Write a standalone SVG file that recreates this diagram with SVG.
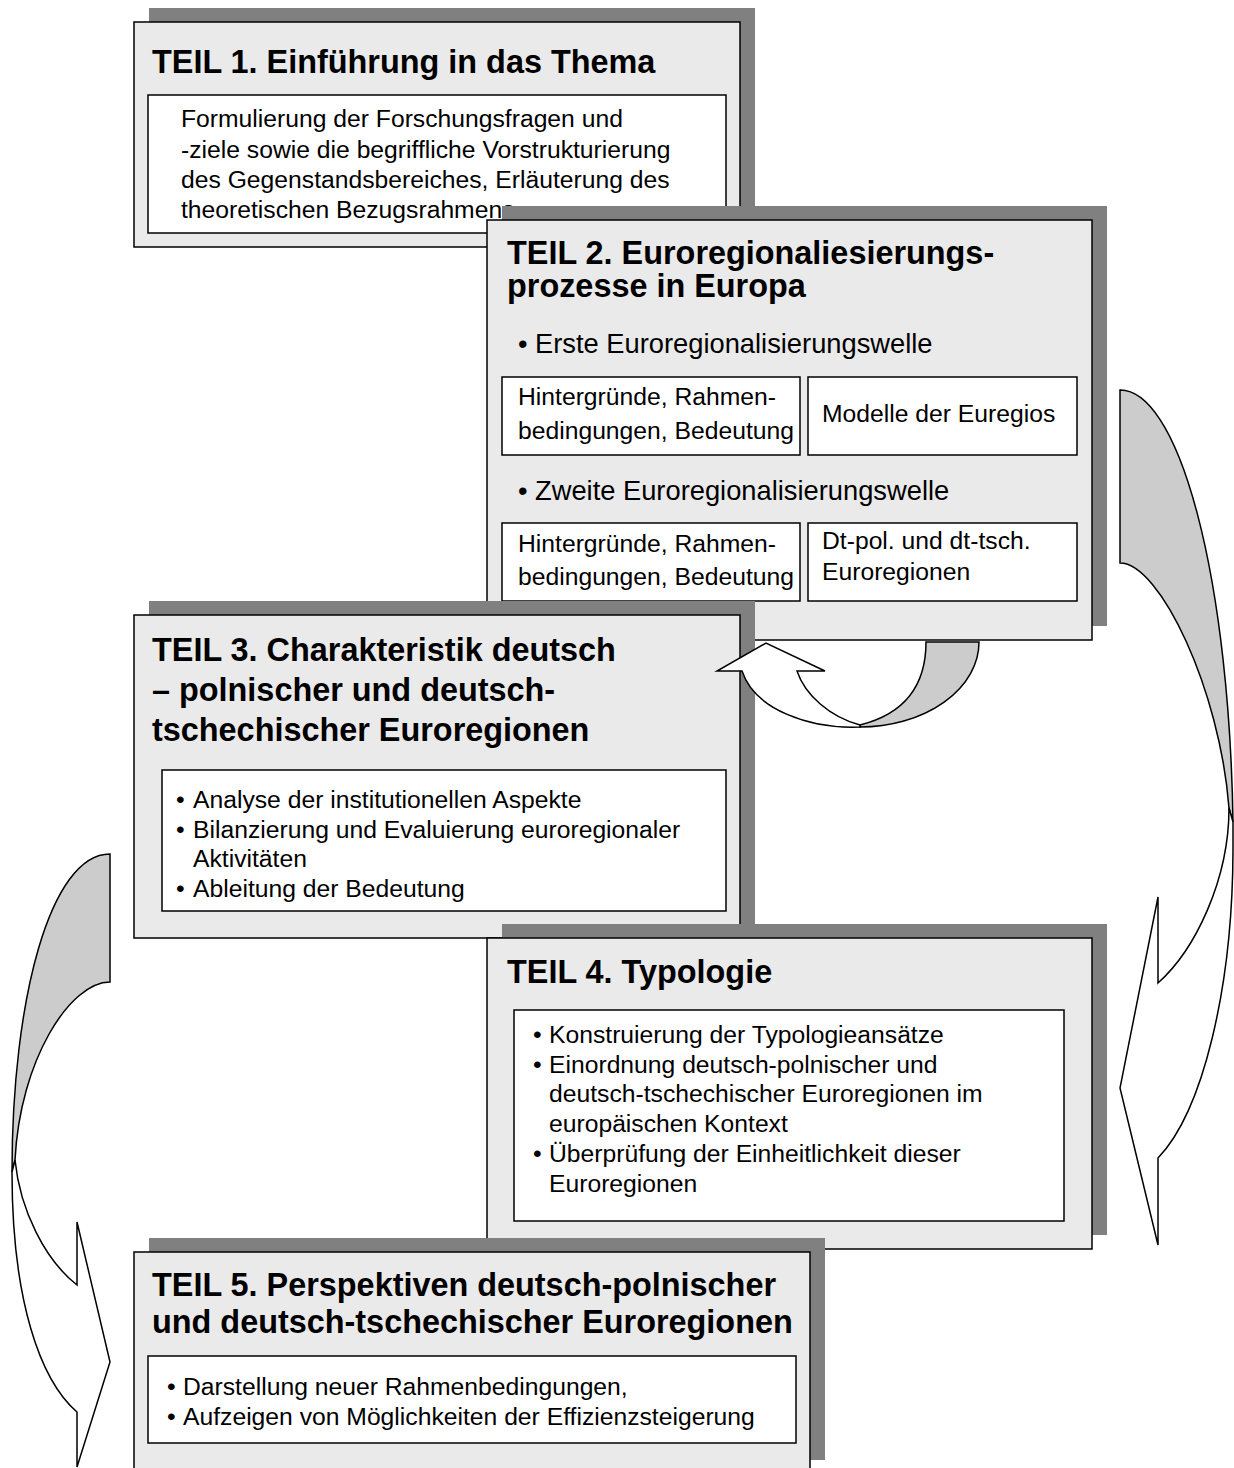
<svg xmlns="http://www.w3.org/2000/svg" width="1234" height="1468" viewBox="0 0 1234 1468">
  <style>
    .shadow { fill: #808080; }
    .panel { fill: #eaeaea; stroke: #000; stroke-width: 1.5; }
    .inner { fill: #ffffff; stroke: #000; stroke-width: 1.5; }
    .title { font-family: "Liberation Sans", Arial, sans-serif; font-size: 32.4px; font-weight: bold; fill: #000; }
    .body { font-family: "Liberation Sans", Arial, sans-serif; font-size: 24.7px; fill: #000; }
    .wave { font-family: "Liberation Sans", Arial, sans-serif; font-size: 27.3px; fill: #000; }
    .back { fill: #cccccc; stroke: #000; stroke-width: 1.5; stroke-linejoin: miter; }
    .front { fill: #ffffff; stroke: #000; stroke-width: 1.5; stroke-linejoin: miter; }
  </style>
  <rect width="1234" height="1468" fill="#ffffff"/>

  <!-- curved return arrows on the right and left margins -->
  <g id="connectors-back">
    <path class="back" d="M1120,390 A113,460 0 0 1 1233,822 L1229,808 C1220,690 1160,563 1120,563 Z"/>
    <path class="front" d="M1229,808 C1229,880 1195,950 1158,983 L1158,897 L1120,1088 L1158,1245 L1158,1158 A113,330 0 0 0 1233,850 L1233,822 Z"/>
    <path class="back" d="M110,854 C50,854 12,1000 12,1172 L15,1160 C20,1060 70,982 110,982 Z"/>
    <path class="front" d="M15,1160 C20,1210 45,1260 77,1285 L77,1222 L110,1362 L77,1467 L77,1412 C40,1380 12,1300 12,1172 Z"/>
  </g>

  <g id="teil1">
    <rect class="shadow" x="149" y="8" width="606" height="225"/>
    <rect class="panel" x="134" y="22" width="606" height="225"/>
    <text class="title" x="152" y="73">TEIL 1. Einführung in das Thema</text>
    <rect class="inner" x="148" y="95" width="578" height="138"/>
    <text class="body" x="181" y="127">Formulierung der Forschungsfragen und</text>
    <text class="body" x="181" y="158">-ziele sowie die begriffliche Vorstrukturierung</text>
    <text class="body" x="181" y="188">des Gegenstandsbereiches, Erläuterung des</text>
    <text class="body" x="181" y="218">theoretischen Bezugsrahmens</text>
  </g>

  <g id="teil2">
    <rect class="shadow" x="502" y="206" width="605" height="420"/>
    <rect class="panel" x="487" y="220" width="605" height="420"/>
    <text class="title" x="507" y="264">TEIL 2. Euroregionaliesierungs-</text>
    <text class="title" x="507" y="297">prozesse in Europa</text>
    <text class="wave" x="518" y="353">•</text>
    <text class="wave" x="535" y="353">Erste Euroregionalisierungswelle</text>
    <rect class="inner" x="502" y="377" width="298" height="78"/>
    <text class="body" x="518" y="405">Hintergründe, Rahmen-</text>
    <text class="body" x="518" y="439">bedingungen, Bedeutung</text>
    <rect class="inner" x="808" y="377" width="269" height="78"/>
    <text class="body" x="822" y="422">Modelle der Euregios</text>
    <text class="wave" x="518" y="500">•</text>
    <text class="wave" x="535" y="500">Zweite Euroregionalisierungswelle</text>
    <rect class="inner" x="502" y="523" width="298" height="78"/>
    <text class="body" x="518" y="552">Hintergründe, Rahmen-</text>
    <text class="body" x="518" y="585">bedingungen, Bedeutung</text>
    <rect class="inner" x="808" y="523" width="269" height="78"/>
    <text class="body" x="822" y="549">Dt-pol. und dt-tsch.</text>
    <text class="body" x="822" y="580">Euroregionen</text>
  </g>

  <g id="teil3">
    <rect class="shadow" x="149" y="601" width="606" height="323"/>
    <rect class="panel" x="134" y="615" width="606" height="323"/>
    <text class="title" x="152" y="661">TEIL 3. Charakteristik deutsch</text>
    <text class="title" x="152" y="701">– polnischer und deutsch-</text>
    <text class="title" x="152" y="741">tschechischer Euroregionen</text>
    <rect class="inner" x="162" y="770" width="564" height="141"/>
    <text class="body" x="176" y="808">•</text>
    <text class="body" x="193" y="808">Analyse der institutionellen Aspekte</text>
    <text class="body" x="176" y="838">•</text>
    <text class="body" x="193" y="838">Bilanzierung und Evaluierung euroregionaler</text>
    <text class="body" x="193" y="867">Aktivitäten</text>
    <text class="body" x="176" y="897">•</text>
    <text class="body" x="193" y="897">Ableitung der Bedeutung</text>
  </g>

  <!-- U-turn arrow below Teil 2 pointing back up -->
  <g id="connector-uturn">
    <path class="back" d="M926,642 L979,642 A119,85 0 0 1 860,727 L860,725 C900,715 926,690 926,642 Z"/>
    <path class="front" d="M860,727 C810,729 755,710 742,671 L717,671 L766,643 L825,671 L797,671 C805,695 830,717 860,725 Z"/>
  </g>

  <g id="teil4">
    <rect class="shadow" x="502" y="924" width="605" height="311"/>
    <rect class="panel" x="487" y="938" width="605" height="311"/>
    <text class="title" x="507" y="983">TEIL 4. Typologie</text>
    <rect class="inner" x="514" y="1010" width="550" height="211"/>
    <text class="body" x="533" y="1043">•</text>
    <text class="body" x="549" y="1043">Konstruierung der Typologieansätze</text>
    <text class="body" x="533" y="1073">•</text>
    <text class="body" x="549" y="1073">Einordnung deutsch-polnischer und</text>
    <text class="body" x="549" y="1102">deutsch-tschechischer Euroregionen im</text>
    <text class="body" x="549" y="1132">europäischen Kontext</text>
    <text class="body" x="533" y="1162">•</text>
    <text class="body" x="549" y="1162">Überprüfung der Einheitlichkeit dieser</text>
    <text class="body" x="549" y="1192">Euroregionen</text>
  </g>

  <g id="teil5">
    <rect class="shadow" x="149" y="1238" width="676" height="222"/>
    <rect class="panel" x="134" y="1252" width="676" height="222"/>
    <text class="title" x="152" y="1296">TEIL 5. Perspektiven deutsch-polnischer</text>
    <text class="title" x="152" y="1333">und deutsch-tschechischer Euroregionen</text>
    <rect class="inner" x="148" y="1356" width="648" height="87"/>
    <text class="body" x="167" y="1395">•</text>
    <text class="body" x="183" y="1395">Darstellung neuer Rahmenbedingungen,</text>
    <text class="body" x="167" y="1425">•</text>
    <text class="body" x="183" y="1425">Aufzeigen von Möglichkeiten der Effizienzsteigerung</text>
  </g>
</svg>
